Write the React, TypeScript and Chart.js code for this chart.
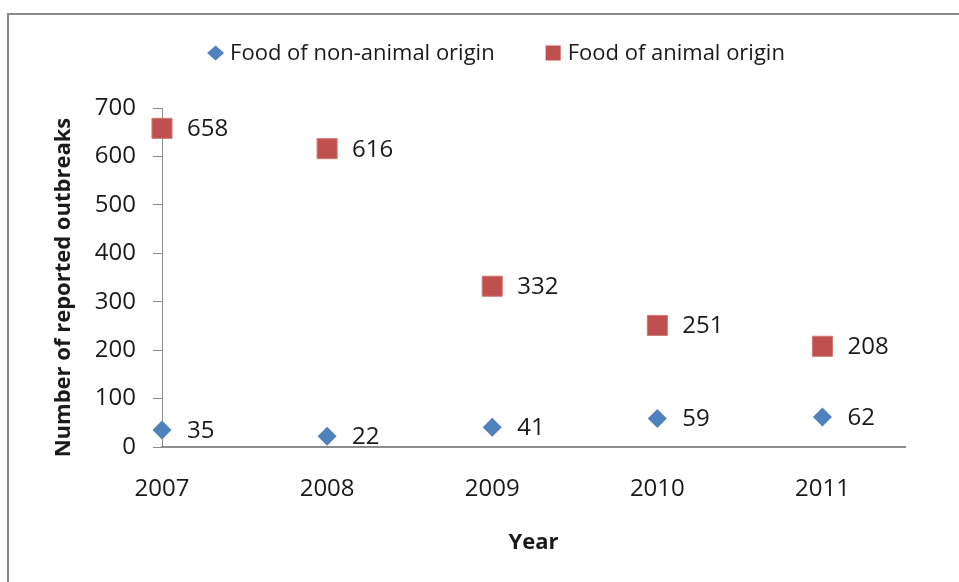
import React, { useEffect, useRef } from "react";
import { Chart, registerables } from "chart.js";

Chart.register(...registerables);

const years = [2007, 2008, 2009, 2010, 2011];
const nonAnimal = [35, 22, 41, 59, 62];
const animal = [658, 616, 332, 251, 208];
const yTicks = [0, 100, 200, 300, 400, 500, 600, 700];
const yTitle = "Number of reported outbreaks";
const xTitle = "Year";

const FONT = "'Open Sans', 'Liberation Sans', sans-serif";
const TEXT = "#1a1a1a";

const labelPlugin = {
  id: "pointLabels",
  afterDatasetsDraw(chart: any) {
    const ctx = chart.ctx;
    ctx.save();
    ctx.font = `24px ${FONT}`;
    ctx.fillStyle = TEXT;
    ctx.textAlign = "left";
    ctx.textBaseline = "middle";
    chart.data.datasets.forEach((ds: any, i: number) => {
      const meta = chart.getDatasetMeta(i);
      meta.data.forEach((pt: any, j: number) => {
        ctx.fillText(String(ds.data[j].y), pt.x + 25, pt.y + 1);
      });
    });
    ctx.restore();
  },
};

const yTitlePlugin = {
  id: "yTitle",
  afterDraw(chart: any) {
    const ctx = chart.ctx;
    const area = chart.chartArea;
    ctx.save();
    ctx.font = `bold 22px ${FONT}`;
    ctx.fillStyle = TEXT;
    ctx.textAlign = "center";
    ctx.textBaseline = "middle";
    ctx.translate(64, (area.top + area.bottom) / 2 + 10);
    ctx.rotate(-Math.PI / 2);
    ctx.fillText(yTitle, 0, 0);
    ctx.restore();
  },
};

const legendPlugin = {
  id: "customLegend",
  afterDraw(chart: any) {
    const ctx = chart.ctx;
    ctx.save();
    ctx.font = `22px ${FONT}`;
    ctx.textBaseline = "middle";
    ctx.textAlign = "left";
    const y = 53;
    const markerW = 17;
    const gapText = 6;
    const gapItems = 50;
    const ds = chart.data.datasets;
    const widths = ds.map((d: any) => markerW + gapText + ctx.measureText(d.label).width);
    const total = widths.reduce((a: number, b: number) => a + b, 0) + gapItems * (ds.length - 1);
    let x = 496 - total / 2;
    ds.forEach((d: any, i: number) => {
      const cx = x + markerW / 2;
      ctx.fillStyle = d.backgroundColor;
      if (d.pointStyle === "rectRot") {
        ctx.beginPath();
        ctx.moveTo(cx, y - 7.5);
        ctx.lineTo(cx + 8.5, y);
        ctx.lineTo(cx, y + 7.5);
        ctx.lineTo(cx - 8.5, y);
        ctx.closePath();
        ctx.fill();
      } else {
        ctx.fillRect(cx - 7.5, y - 7.5, 15, 15);
      }
      ctx.fillStyle = TEXT;
      ctx.fillText(d.label, x + markerW + gapText, y + 1);
      x += widths[i] + gapItems;
    });
    ctx.restore();
  },
};

export default function App() {
  const ref = useRef<HTMLCanvasElement>(null);
  useEffect(() => {
    if (!ref.current) return;
    const chart = new Chart(ref.current, {
      type: "scatter",
      data: {
        datasets: [
          {
            label: "Food of non-animal origin",
            data: years.map((x, i) => ({ x, y: nonAnimal[i] })),
            pointStyle: "rectRot",
            pointRadius: 9.5,
            backgroundColor: "#4F81BD",
            borderColor: "#4F81BD",
            borderWidth: 0,
            clip: false as any,
          },
          {
            label: "Food of animal origin",
            data: years.map((x, i) => ({ x, y: animal[i] })),
            pointStyle: "rect",
            pointRadius: 14.2,
            backgroundColor: "#C0504D",
            borderColor: "#D07A78",
            borderWidth: 1,
            clip: false as any,
          },
        ],
      },
      options: {
        responsive: false,
        animation: false,
        layout: { padding: { left: 40, right: 54, top: 108, bottom: 0 } },
        plugins: {
          tooltip: { enabled: false },
          legend: { display: false },
        },
        scales: {
          x: {
            type: "linear",
            min: 2007,
            max: 2011.5,
            afterBuildTicks: (s: any) => {
              s.ticks = years.map((v) => ({ value: v }));
            },
            afterFit: (s: any) => {
              s.height = 135;
            },
            grid: { display: false, drawTicks: false },
            border: { display: true, color: "#8c8c8c", width: 2 },
            ticks: {
              padding: 28,
              color: TEXT,
              font: { family: FONT, size: 24 },
              callback: (v: any) => String(v),
            },
            title: {
              display: true,
              text: xTitle,
              color: TEXT,
              font: { family: FONT, size: 22, weight: "bold" },
              padding: { top: 0, bottom: 26 },
            },
          },
          y: {
            min: 0,
            max: 700,
            afterBuildTicks: (s: any) => {
              s.ticks = yTicks.map((v) => ({ value: v }));
            },
            afterFit: (s: any) => {
              s.width = 122;
            },
            grid: {
              display: true,
              drawOnChartArea: false,
              drawTicks: true,
              tickLength: 9,
              color: "#8c8c8c",
            },
            border: { display: true, color: "#8c8c8c", width: 1 },
            ticks: {
              padding: 17,
              color: TEXT,
              font: { family: FONT, size: 24 },
            },
          },
        },
      },
      plugins: [labelPlugin, legendPlugin, yTitlePlugin],
    });
    return () => chart.destroy();
  }, []);
  return (
    <div style={{ position: "fixed", left: 0, top: 0, width: 959, height: 582, background: "#fff", overflow: "hidden" }}>
      <div
        style={{
          position: "absolute",
          left: 7,
          top: 13,
          width: 1000,
          height: 1000,
          border: "2px solid #8a8a8a",
        }}
      />
      <canvas ref={ref} width={959} height={582} style={{ position: "absolute", left: 0, top: 0 }} />
    </div>
  );
}
